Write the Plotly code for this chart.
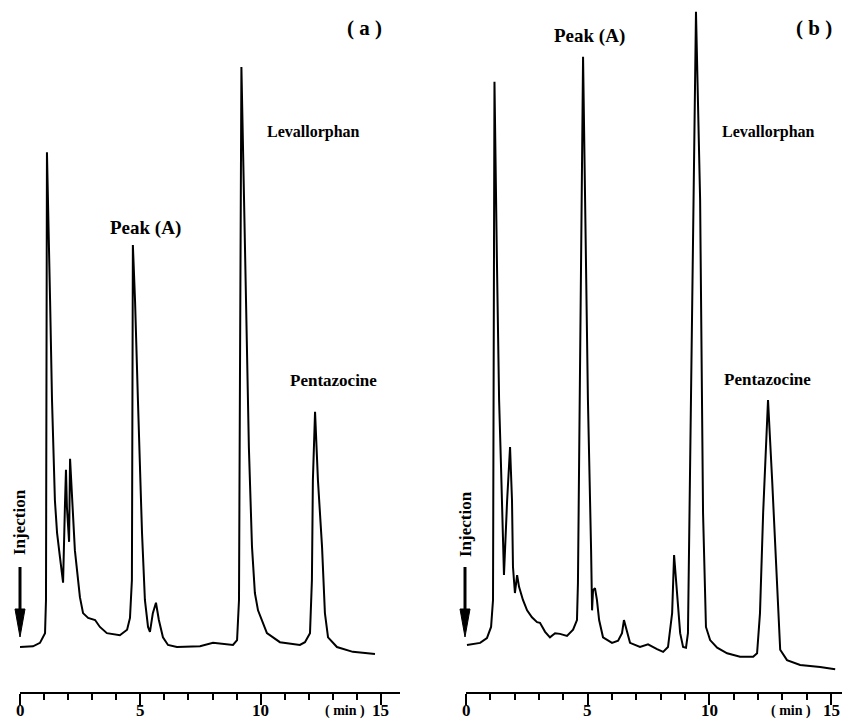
import plotly.graph_objects as go

# ---------------- data (time in min, detector response in arbitrary units) -------------
time_a = [0.00, 0.54, 0.83, 1.04, 1.08, 1.12, 1.25, 1.33, 1.45, 1.54, 1.66, 1.79, 1.87, 1.91,
          1.95, 2.04, 2.08, 2.16, 2.28, 2.49, 2.62, 2.83, 3.12, 3.32, 3.61, 4.15, 4.45, 4.57,
          4.65, 4.69, 4.78, 4.90, 5.07, 5.19, 5.32, 5.40, 5.52, 5.65, 5.77, 5.94, 6.15, 6.52,
          7.48, 8.02, 8.85, 9.02, 9.10, 9.14, 9.20, 9.31, 9.39, 9.47, 9.51, 9.64, 9.76, 9.89,
          10.26, 10.80, 11.63, 11.84, 12.05, 12.13, 12.17, 12.26, 12.38, 12.55, 12.67, 12.80,
          13.17, 13.83, 14.75]
resp_a = [6.5, 6.6, 7.1, 8.5, 13.3, 78.0, 56.6, 42.2, 27.7, 23.0, 19.5, 15.8, 27.3, 32.1,
          26.7, 21.7, 33.7, 28.8, 20.5, 13.7, 11.4, 10.7, 10.4, 9.4, 8.5, 8.2, 9.0, 10.7,
          16.2, 64.6, 56.6, 42.2, 23.0, 13.3, 9.4, 8.7, 11.4, 12.9, 10.4, 7.9, 6.8, 6.5,
          6.6, 7.1, 6.8, 7.5, 13.3, 45.1, 90.3, 71.1, 56.6, 45.1, 35.4, 21.0, 14.3, 11.8,
          8.5, 7.2, 6.8, 7.2, 8.5, 16.2, 30.6, 40.5, 30.6, 21.0, 11.4, 7.9,
          6.5, 5.8, 5.5]

time_b = [0.04, 0.58, 0.86, 1.03, 1.11, 1.17, 1.27, 1.36, 1.44, 1.52, 1.56, 1.69, 1.81, 1.89,
          1.93, 2.01, 2.10, 2.18, 2.34, 2.51, 2.71, 2.92, 3.04, 3.25, 3.45, 3.66, 3.86, 4.15,
          4.40, 4.56, 4.60, 4.81, 4.93, 5.01, 5.14, 5.18, 5.22, 5.30, 5.38, 5.47, 5.63, 6.00,
          6.25, 6.41, 6.49, 6.62, 6.74, 7.15, 7.48, 7.85, 8.10, 8.30, 8.47, 8.55, 8.67, 8.80,
          8.92, 9.04, 9.12, 9.17, 9.25, 9.45, 9.62, 9.70, 9.74, 9.86, 10.03, 10.32, 10.73,
          11.26, 11.80, 11.96, 12.08, 12.21, 12.41, 12.58, 12.70, 12.82, 12.91, 13.19, 13.73,
          14.55, 15.17]
resp_b = [6.8, 7.1, 7.8, 9.4, 13.3, 88.2, 62.4, 42.2, 32.5, 23.0, 16.9, 27.7, 35.4, 27.7,
          18.1, 14.3, 16.9, 15.2, 13.3, 11.8, 10.8, 10.1, 10.0, 8.7, 7.9, 8.5, 8.4, 8.1,
          9.0, 10.4, 15.8, 91.8, 63.9, 42.2, 20.5, 11.8, 14.7, 15.0, 13.3, 10.4, 7.9, 7.1,
          7.4, 8.5, 10.4, 8.5, 7.1, 6.5, 6.9, 6.2, 5.8, 6.5, 11.4, 19.8, 13.7, 8.5,
          6.5, 6.4, 8.5, 21.0, 45.1, 98.3, 71.1, 45.1, 25.9, 9.4, 7.5, 6.4, 5.6,
          5.1, 5.1, 5.6, 11.4, 25.9, 42.2, 30.6, 21.0, 11.4, 6.1, 4.6, 3.9,
          3.6, 3.3]

major_ticks = [0, 5, 10, 15]
major_labels = ["0", "5", "10", "15"]
panel_labels = ["( a )", "( b )"]
peak_names = ["Peak (A)", "Levallorphan", "Pentazocine"]

# ---------------- layout helpers --------------------------------------------------------
W, H = 845, 722


def px(x):
    return x / W


def py(y):
    return (H - y) / H


SERIF = "Liberation Serif"
fig = go.Figure()

fig.add_trace(go.Scatter(x=time_a, y=resp_a, mode="lines", xaxis="x", yaxis="y",
                         line=dict(color="black", width=2), showlegend=False,
                         hoverinfo="skip"))
fig.add_trace(go.Scatter(x=time_b, y=resp_b, mode="lines", xaxis="x2", yaxis="y2",
                         line=dict(color="black", width=2), showlegend=False,
                         hoverinfo="skip"))

xcommon = dict(
    showline=True, linecolor="black", linewidth=2,
    ticks="outside", ticklen=11, tickwidth=2, tickcolor="black",
    tickvals=major_ticks, showticklabels=False,
    minor=dict(ticks="outside", ticklen=6, tickwidth=2, tickcolor="black", dtick=1,
               tick0=0, showgrid=False),
    showgrid=False, zeroline=False, fixedrange=True, automargin=False,
)
ycommon = dict(range=[0, 100], domain=[30 / H, 1], visible=False, showgrid=False,
               zeroline=False, fixedrange=True, automargin=False)

fig.update_layout(
    width=W, height=H,
    margin=dict(l=0, r=0, t=0, b=0, pad=0, autoexpand=False),
    paper_bgcolor="white", plot_bgcolor="white",
    xaxis=dict(domain=[px(20), px(400)], range=[0, 15.79], anchor="y", **xcommon),
    yaxis=dict(anchor="x", **ycommon),
    xaxis2=dict(domain=[px(466), px(842)], range=[0, 15.45], anchor="y2", **xcommon),
    yaxis2=dict(anchor="x2", **ycommon),
    showlegend=False,
)

bold = dict(family=SERIF, color="black", weight="bold")


def label(text, x, y, size, angle=0):
    fig.add_annotation(text=text, x=px(x), y=py(y), xref="paper", yref="paper",
                       showarrow=False, xanchor="center", yanchor="middle",
                       textangle=angle, font=dict(size=size, **bold))


# tick labels placed on the axes' own scales
for xr in ("x", "x2"):
    for v, t in zip(major_ticks, major_labels):
        fig.add_annotation(text=t, x=v, xref=xr, y=py(710), yref="paper",
                           showarrow=False, xanchor="center", yanchor="middle",
                           borderpad=0, font=dict(size=17, **bold))

label(panel_labels[0], 364, 28, 21)
label(panel_labels[1], 814, 28, 21)
label(peak_names[0], 145, 228, 19)
label(peak_names[0], 589, 36, 19)
label(peak_names[1], 313, 132, 16)
label(peak_names[1], 768, 132, 16)
label(peak_names[2], 333, 381, 17)
label(peak_names[2], 767, 379, 17)
label("Injection", 19, 522, 17, angle=-90)
label("Injection", 465, 524, 17, angle=-90)
label("( min )", 345, 711, 14)
label("( min )", 791, 711, 14)

# injection arrows
for ax_x in (20, 465):
    fig.add_shape(type="line", xref="paper", yref="paper",
                  x0=px(ax_x), x1=px(ax_x), y0=py(567), y1=py(615),
                  line=dict(color="black", width=3))
    fig.add_shape(type="path", xref="paper", yref="paper",
                  path=f"M {px(ax_x - 5)},{py(609)} L {px(ax_x + 5)},{py(609)} "
                       f"L {px(ax_x)},{py(637)} Z",
                  fillcolor="black", line=dict(color="black", width=1))

fig.write_html("out.html")
